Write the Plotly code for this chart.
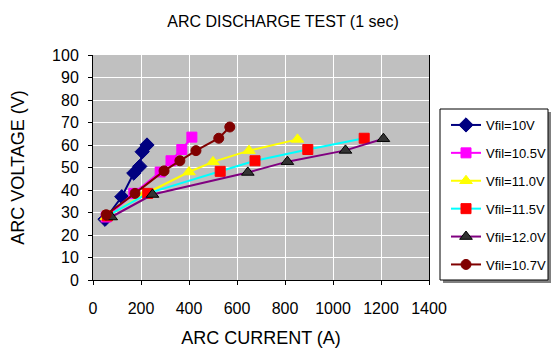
import plotly.graph_objects as go

# ---- data ----
names = ["Vfil=10V", "Vfil=10.5V", "Vfil=11.0V", "Vfil=11.5V", "Vfil=12.0V", "Vfil=10.7V"]

x_10v = [50, 120, 170, 195, 205, 225]
y_10v = [27, 37, 47.5, 50.5, 57, 60]

x_105v = [55, 170, 280, 325, 370, 412]
y_105v = [28, 38.5, 48, 53, 58, 63.5]

x_110v = [55, 212, 400, 500, 650, 852]
y_110v = [28, 38, 48, 52.5, 57.5, 62.5]

x_115v = [60, 228, 530, 675, 895, 1130]
y_115v = [28.5, 38.5, 48.3, 53, 58, 63]

x_120v = [76, 248, 645, 810, 1052, 1210]
y_120v = [28, 38, 47.8, 52.6, 57.6, 62.8]

x_107v = [55, 175, 296, 362, 429, 524, 570]
y_107v = [29, 38.5, 48.5, 53, 57.5, 63, 68]

x_ticks = [0, 200, 400, 600, 800, 1000, 1200, 1400]
y_ticks = [0, 10, 20, 30, 40, 50, 60, 70, 80, 90, 100]

series = [
    (x_10v, y_10v, "#000080", "#000080", "diamond", "#000080", 11),
    (x_105v, y_105v, "#FF00FF", "#FF00FF", "square", "#FF00FF", 10),
    (x_110v, y_110v, "#FFFF00", "#FFFF00", "triangle-up", "#FFFF00", 11),
    (x_115v, y_115v, "#00FFFF", "#FF0000", "square", "#FF0000", 10),
    (x_120v, y_120v, "#800080", "#333333", "triangle-up", "#000000", 11),
    (x_107v, y_107v, "#800000", "#800000", "circle", "#800000", 10),
]

SANS = "Liberation Sans, Arial, sans-serif"

W, H = 551, 349
L, R, T, B = 93, 122, 55, 69
PW, PH = W - L - R, H - T - B


def px_x(px):
    return (px - L) / PW


def px_y(py):
    return (H - B - py) / PH


fig = go.Figure()
for i, (xs, ys, lc, mc, sym, mlc, ms) in enumerate(series):
    fig.add_trace(go.Scatter(
        x=xs, y=ys, name=names[i], mode="lines+markers",
        legendgroup=f"g{i}",
        line=dict(color=lc, width=2),
        marker=dict(color=mc, symbol=sym, size=ms, line=dict(color=mlc, width=1)),
    ))

# legend frame with shadow (styling only)
fig.add_shape(type="rect", xref="paper", yref="paper",
              x0=px_x(443), x1=px_x(551), y0=px_y(283), y1=px_y(112),
              line=dict(width=0), fillcolor="#808080", layer="above")
fig.add_shape(type="rect", xref="paper", yref="paper",
              x0=px_x(440), x1=px_x(548), y0=px_y(280), y1=px_y(109),
              line=dict(color="black", width=1), fillcolor="white", layer="above")

fig.update_layout(
    width=W, height=H,
    margin=dict(l=L, r=R, t=T, b=B, autoexpand=False),
    paper_bgcolor="white",
    plot_bgcolor="#C0C0C0",
    title=dict(text="ARC DISCHARGE TEST (1 sec)", x=283 / W, xref="container",
               y=1 - 21 / H, yref="container", xanchor="center", yanchor="middle",
               font=dict(family=SANS, size=16, color="black")),
    legend=dict(x=px_x(446), xanchor="left", y=px_y(110), yanchor="top",
                borderwidth=0, bgcolor="rgba(0,0,0,0)",
                font=dict(family=SANS, size=13, color="black"),
                itemwidth=30, tracegroupgap=8, traceorder="grouped"),
    showlegend=True,
)
fig.update_xaxes(
    range=[0, 1400], tickvals=x_ticks, showgrid=True, gridcolor="white", gridwidth=1,
    showline=True, linecolor="black", linewidth=1, zeroline=False, automargin=False,
    ticks="outside", ticklen=4, tickcolor="black",
    tickfont=dict(family=SANS, size=16, color="black"), ticklabelstandoff=10,
    title=dict(text="ARC CURRENT (A)", font=dict(family=SANS, size=18, color="black"), standoff=15),
)
fig.update_yaxes(
    range=[0, 100], tickvals=y_ticks, showgrid=True, gridcolor="white", gridwidth=1,
    showline=True, linecolor="black", linewidth=1, mirror=True, zeroline=False, automargin=False,
    ticks="outside", ticklen=4, tickcolor="black",
    tickfont=dict(family=SANS, size=16, color="black"), ticklabelstandoff=6,
    title=dict(text="ARC VOLTAGE (V)", font=dict(family=SANS, size=18, color="black"), standoff=22),
)

fig.write_html("out.html", config={"displayModeBar": False},
               post_script="document.body.style.margin='0';")
